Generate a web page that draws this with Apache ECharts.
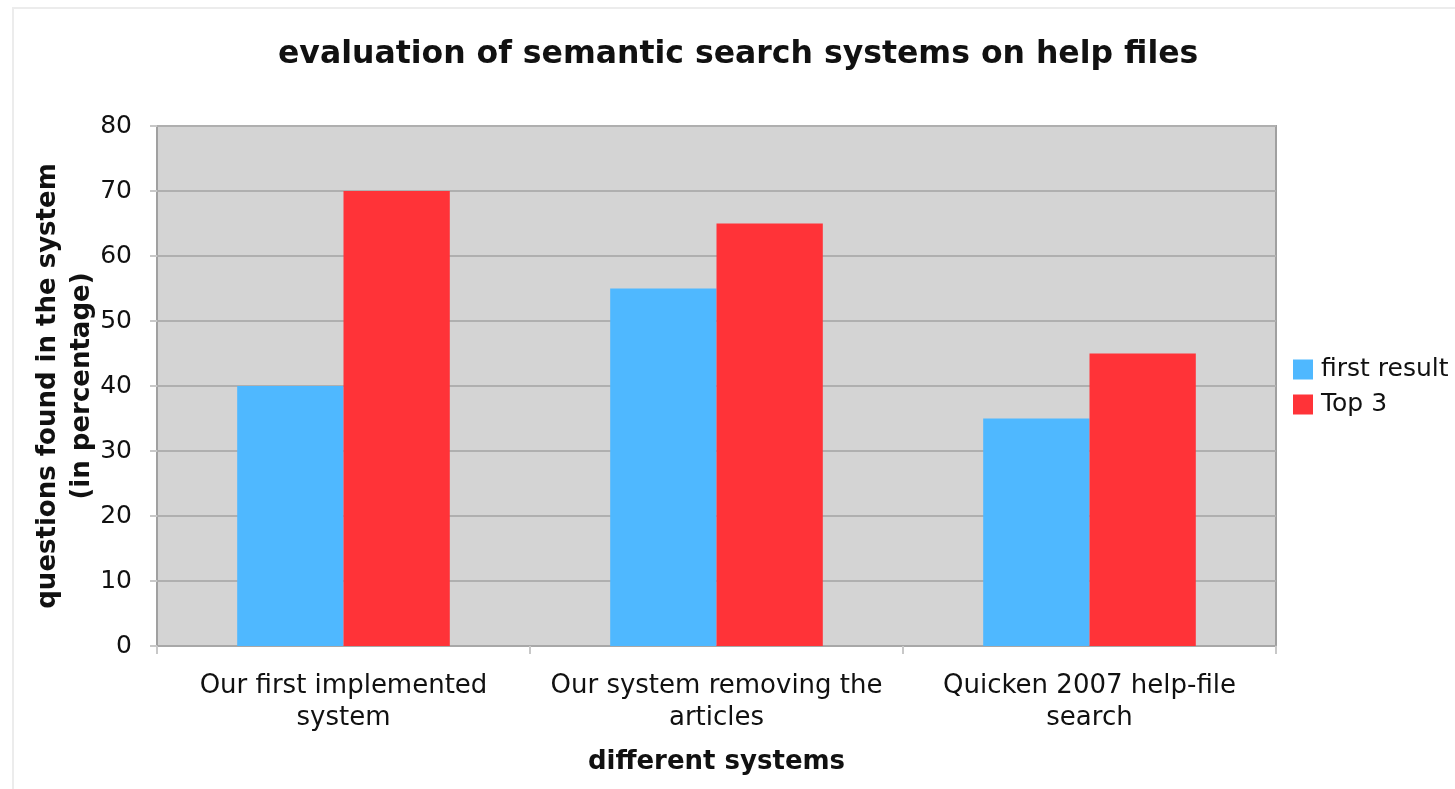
<!DOCTYPE html>
<html>
<head>
<meta charset="utf-8">
<script src="https://cdn.jsdelivr.net/npm/echarts@6/dist/echarts.min.js"></script>
<style>
html,body{margin:0;padding:0;background:#fff;}
#frame{position:absolute;left:12px;top:7px;width:1443px;height:782px;border-left:2px solid #ececec;border-top:2px solid #ececec;}
#chart{position:absolute;left:0;top:0;width:1455px;height:789px;}
</style>
</head>
<body>
<div id="frame"></div>
<div id="chart"></div>
<script>
const categories = ['Our first implemented\nsystem', 'Our system removing the\narticles', 'Quicken 2007 help-file\nsearch'];
const firstResult = [40, 55, 35];
const top3 = [70, 65, 45];
const seriesNames = ['first result', 'Top 3'];
const titleText = 'evaluation of semantic search systems on help files';
const xName = 'different systems';
const yName = 'questions found in the system\n(in percentage)';

const font = 'DejaVu Sans, Verdana, sans-serif';
const chart = echarts.init(document.getElementById('chart'), null, {renderer: 'canvas'});
chart.setOption({
  animation: false,
  backgroundColor: 'transparent',
  title: {
    text: titleText, left: 273, top: 34,
    textStyle: {fontFamily: font, fontSize: 31.5, fontWeight: 'bold', color: '#111'}
  },
  legend: {
    orient: 'vertical', left: 1288, top: 352,
    itemWidth: 20, itemHeight: 20, itemGap: 10,
    icon: 'rect',
    textStyle: {fontFamily: font, fontSize: 25, color: '#111', padding: [0,0,0,3]},
    data: seriesNames
  },
  grid: {
    left: 157, right: 179, top: 126, bottom: 143,
    outerBoundsMode: 'none', containLabel: false,
    show: true, backgroundColor: '#d4d4d4', borderColor: '#a0a0a0', borderWidth: 2
  },
  xAxis: {
    type: 'category', data: categories,
    name: xName, nameLocation: 'middle', nameGap: 103, nameMoveOverlap: false,
    nameTextStyle: {fontFamily: font, fontSize: 26, fontWeight: 'bold', color: '#111'},
    axisLine: {show: true, lineStyle: {color: '#a8a8a8', width: 2}},
    axisTick: {show: true, interval: 0, alignWithLabel: false, length: 8, lineStyle: {color: '#c8c8c8', width: 2}},
    axisLabel: {interval: 0, fontFamily: font, fontSize: 26, color: '#111', margin: 24, lineHeight: 32},
    splitLine: {show: false}
  },
  yAxis: {
    type: 'value', min: 0, max: 80, interval: 10,
    name: yName, nameLocation: 'middle', nameGap: 58, nameRotate: 90, nameMoveOverlap: false,
    nameTextStyle: {fontFamily: font, fontSize: 26, fontWeight: 'bold', color: '#111', lineHeight: 34, align: 'center'},
    axisLine: {show: false},
    axisTick: {show: true, length: 7, lineStyle: {color: '#c8c8c8', width: 2}},
    axisLabel: {fontFamily: font, fontSize: 25, color: '#111', margin: 25},
    splitLine: {show: true, lineStyle: {color: '#afafaf', width: 2}}
  },
  series: [
    {name: seriesNames[0], type: 'bar', data: firstResult, barGap: '0%', barCategoryGap: '43%',
     itemStyle: {color: '#4fb8ff'}},
    {name: seriesNames[1], type: 'bar', data: top3, barGap: '0%', barCategoryGap: '43%',
     itemStyle: {color: '#ff3338'}}
  ]
});
</script>
</body>
</html>
